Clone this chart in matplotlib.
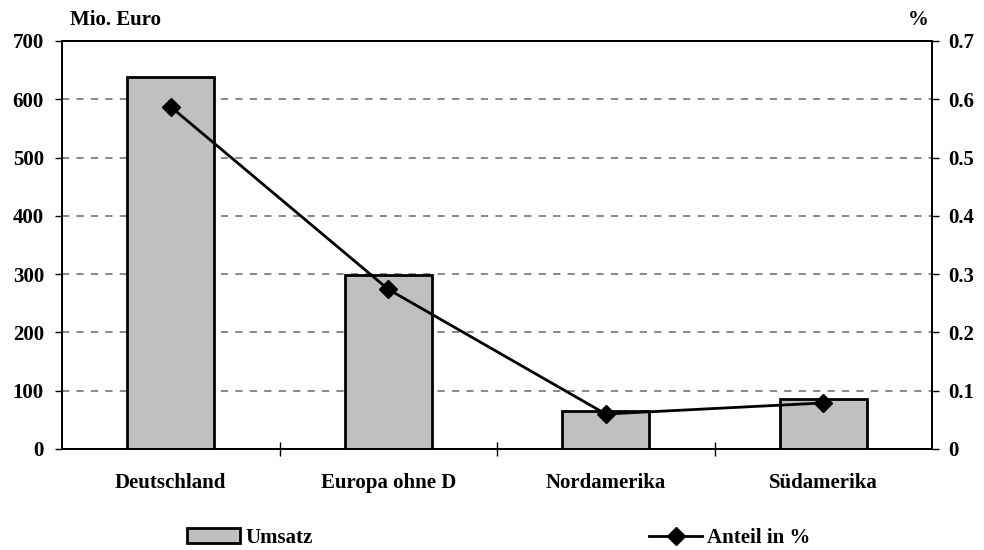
import matplotlib

matplotlib.use("Agg")
import matplotlib.pyplot as plt
from matplotlib.lines import Line2D
from matplotlib.patches import Patch

# data
regions = ["Deutschland", "Europa ohne D", "Nordamerika", "Südamerika"]
umsatz = [638, 299, 65, 85]          # Mio. Euro
anteil = [0.587, 0.274, 0.060, 0.079]  # share
left_ticks = [0, 100, 200, 300, 400, 500, 600, 700]
right_ticks = [0, 0.1, 0.2, 0.3, 0.4, 0.5, 0.6, 0.7]

plt.rcParams["font.family"] = ["Liberation Serif", "DejaVu Serif"]
plt.rcParams["font.weight"] = "bold"
FS = 15

fig = plt.figure(figsize=(9.84, 5.5), dpi=100)
ax = fig.add_axes([62 / 984, 1 - 449 / 550, (932 - 62) / 984, (449 - 41) / 550])
ax2 = ax.twinx()

x = list(range(len(regions)))
ax.bar(x, umsatz, width=0.4, color="#c0c0c0", edgecolor="black", linewidth=2, zorder=2)
ax.set_xlim(-0.5, len(regions) - 0.5)
ax.set_ylim(0, 700)
ax.set_yticks(left_ticks)
ax.set_yticklabels([str(t) for t in left_ticks], fontsize=FS, fontweight="bold")
ax.yaxis.grid(True, color="#808080", linestyle=(0, (4, 4)), linewidth=1.3)
ax.set_axisbelow(True)

ax.set_xticks(x)
ax.set_xticklabels(regions, fontsize=FS, fontweight="bold")
ax.tick_params(axis="x", which="major", length=0, pad=17)
ax.set_xticks([0.5, 1.5, 2.5], minor=True)
ax.tick_params(axis="x", which="minor", direction="inout", length=10, width=1)
ax.tick_params(axis="y", direction="out", length=5, width=1, pad=8)

ax2.plot(x, anteil, color="black", linewidth=2, marker="D", markersize=9, zorder=3)
ax2.set_ylim(0, 0.7)
ax2.set_yticks(right_ticks)
ax2.set_yticklabels(["0"] + [f"{t:.1f}" for t in right_ticks[1:]], fontsize=FS, fontweight="bold")
ax2.tick_params(axis="y", direction="out", length=5, width=1, pad=6.5)

for a in (ax, ax2):
    for s in a.spines.values():
        s.set_linewidth(1.3)
        s.set_color("black")

fig.text(70 / 984, 1 - 20 / 550, "Mio. Euro", fontsize=FS, fontweight="bold", va="center")
fig.text(918 / 984, 1 - 20 / 550, "%", fontsize=FS, fontweight="bold", va="center", ha="center")

h1 = Patch(facecolor="#c0c0c0", edgecolor="black", linewidth=2)
h2 = Line2D([], [], color="black", linewidth=2, marker="D", markersize=9)
leg_kw = dict(loc="center left", frameon=False, prop={"size": FS, "weight": "bold"},
              handlelength=2.55, handletextpad=0.25, borderaxespad=0, borderpad=0)
fig.legend([h1], ["Umsatz"], bbox_to_anchor=(187 / 984, 1 - 538 / 550), **leg_kw)
fig.legend([h2], ["Anteil in %"], bbox_to_anchor=(649 / 984, 1 - 538 / 550), **leg_kw)

fig.savefig("out.png", dpi=100)
